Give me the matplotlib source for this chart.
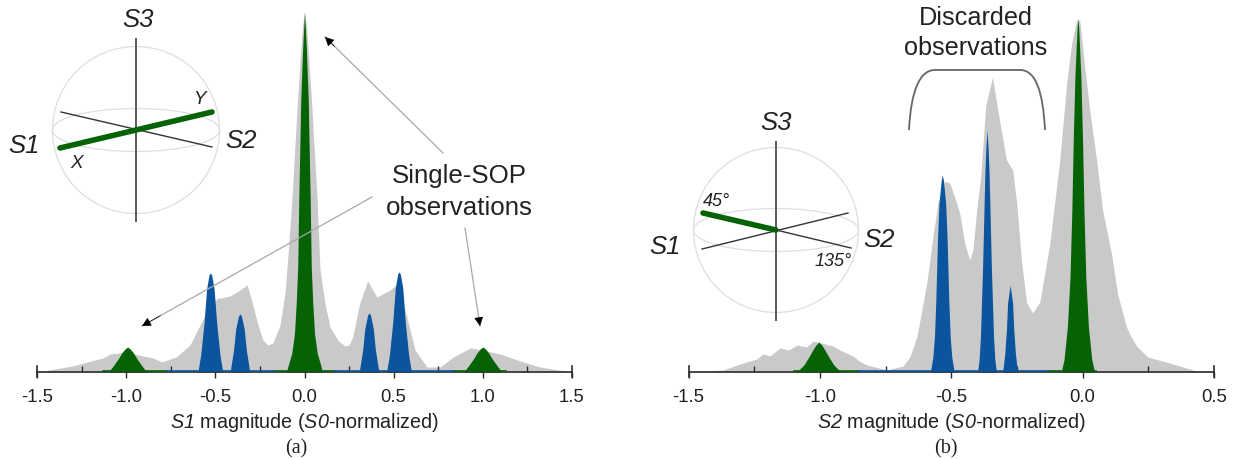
import numpy as np
import matplotlib
matplotlib.use('Agg')
import matplotlib.pyplot as plt
from matplotlib.patches import Circle, Ellipse, PathPatch
from matplotlib.path import Path

plt.rcParams['font.family'] = ['Liberation Sans', 'DejaVu Sans']
plt.rcParams['mathtext.fontset'] = 'custom'
# \mathrm is pointed at the italic face so the digits in S1, S2, S0 lean as well
plt.rcParams['mathtext.rm'] = 'Liberation Sans:italic'
plt.rcParams['mathtext.it'] = 'Liberation Sans:italic'

# ── Data, panel (a): S1 magnitude ─────────────────────────────────────────────
s1_gray_x = [-1.5, -1.4, -1.3, -1.2, -1.13, -1.09, -1.0, -0.905, -0.85, -0.8, -0.72, -0.642, -0.569,
             -0.53, -0.485, -0.47, -0.418, -0.362, -0.322, -0.294, -0.261, -0.233, -0.205, -0.177,
             -0.137, -0.109, -0.0925, -0.071, -0.039, -0.012, 0.0, 0.012, 0.039, 0.071, 0.087,
             0.115, 0.143, 0.19, 0.227, 0.25, 0.27, 0.31, 0.354, 0.405, 0.48, 0.53, 0.564, 0.62,
             0.687, 0.76, 0.834, 0.93, 1.0, 1.097, 1.21, 1.32, 1.5]
s1_gray_y = [0, 3, 6, 11, 14, 18, 20, 16, 14, 10, 15, 27, 53, 66, 74, 74, 76, 82, 87, 70, 47, 32,
             27, 29, 47, 80, 117, 172, 272, 345, 360, 345, 272, 172, 102, 68, 45, 31, 26, 27, 35,
             69, 91, 75, 82, 90, 62, 22, 5, 5, 15, 24, 22, 18, 11, 5, 0]

s1_green_peaks = [
    ([-1.1, -1.073, -1.045, -1.025, -1.007, -0.992, -0.977, -0.959, -0.939, -0.911, -0.885],
     [0, 6, 13, 19, 23, 25, 23, 19, 13, 6, 0]),
    ([-0.101, -0.094, -0.071, -0.056, -0.046, -0.038, -0.032, -0.021, -0.01, 0.0,
      0.01, 0.021, 0.032, 0.038, 0.046, 0.056, 0.071, 0.094, 0.101],
     [0, 5, 19, 39, 70, 105, 172, 272, 325, 360, 325, 272, 172, 105, 70, 39, 19, 5, 0]),
    ([0.893, 0.919, 0.947, 0.967, 0.985, 1.0, 1.015, 1.033, 1.053, 1.081, 1.107],
     [0, 6, 13, 19, 23, 25, 23, 19, 13, 6, 0]),
]
s1_blue_peaks = [
    ([-0.598, -0.595, -0.582, -0.563, -0.549, -0.5355, -0.528, -0.5205, -0.507, -0.493, -0.474, -0.461, -0.458],
     [0, 3, 17, 50, 83, 97, 99, 97, 83, 50, 17, 3, 0]),
    ([-0.417, -0.411, -0.397, -0.386, -0.37, -0.362, -0.354, -0.338, -0.327, -0.313, -0.307],
     [0, 7, 23, 43, 56, 58, 56, 43, 23, 7, 0]),
    ([0.307, 0.313, 0.327, 0.338, 0.354, 0.362, 0.37, 0.386, 0.397, 0.411, 0.417],
     [0, 7, 23, 43, 57, 59, 57, 43, 23, 7, 0]),
    ([0.46, 0.463, 0.476, 0.495, 0.509, 0.5225, 0.53, 0.5375, 0.551, 0.565, 0.584, 0.597, 0.6],
     [0, 3, 17, 50, 84, 98, 100, 98, 84, 50, 17, 3, 0]),
]
s1_green_base = [(-1.13, -0.77), (-0.17, 0.17), (0.83, 1.13)]
s1_blue_base = [(-0.77, -0.17), (0.17, 0.83)]

# ── Data, panel (b): S2 magnitude ─────────────────────────────────────────────
s2_gray_x = [-1.5, -1.369, -1.325, -1.292, -1.266, -1.24, -1.217, -1.19, -1.152, -1.12, -1.087,
             -1.05, -1.026, -0.98, -0.95, -0.924, -0.9, -0.874, -0.85, -0.82, -0.745, -0.684,
             -0.658, -0.631, -0.593, -0.57, -0.551, -0.525, -0.506, -0.487, -0.468, -0.449,
             -0.43, -0.418, -0.399, -0.388, -0.369, -0.343, -0.323, -0.29, -0.266, -0.251,
             -0.232, -0.213, -0.19, -0.163, -0.125, -0.087, -0.061, -0.042, -0.023, -0.011,
             0.008, 0.027, 0.053, 0.076, 0.11, 0.133, 0.167, 0.179, 0.205, 0.247, 0.304, 0.369,
             0.433, 0.5]
s2_gray_y = [0, 2, 6, 9, 11, 13, 18, 16, 24, 22, 27, 25, 31, 28, 26, 22, 19, 16, 11, 7, 2, 6, 15,
             35, 89, 135, 169, 191, 189, 175, 159, 129, 112, 122, 172, 195, 266, 295, 262, 212,
             202, 169, 109, 69, 59, 70, 128, 212, 288, 328, 352, 352, 305, 262, 212, 162, 118,
             78, 45, 38, 26, 15, 11, 6, 1, 0]

s2_green_peaks = [
    ([-1.091, -1.084, -1.061, -1.042, -1.027, -1.015, -1.004, -0.993, -0.981, -0.966, -0.947, -0.924, -0.917],
     [0, 1, 7, 15, 22, 27, 30, 27, 22, 15, 7, 1, 0]),
    ([-0.0815, -0.071, -0.058, -0.048, -0.041, -0.036, -0.0294, -0.021, -0.018, -0.015, -0.0066,
      0.0, 0.005, 0.012, 0.022, 0.035, 0.0455],
     [0, 12, 45, 95, 162, 228, 295, 345, 353, 345, 295, 228, 162, 95, 45, 12, 0]),
]
s2_blue_peaks = [
    ([-0.58, -0.578, -0.57, -0.564, -0.559, -0.5555, -0.552, -0.5467, -0.538, -0.534, -0.53,
      -0.5213, -0.516, -0.5125, -0.509, -0.504, -0.498, -0.49, -0.488],
     [0, 2, 15, 35, 69, 102, 135, 169, 192, 197, 192, 169, 135, 102, 69, 35, 15, 2, 0]),
    ([-0.4, -0.394, -0.389, -0.381, -0.3748, -0.3716, -0.368, -0.364, -0.36, -0.3564, -0.3532,
      -0.347, -0.339, -0.334, -0.328],
     [0, 12, 35, 102, 169, 202, 225, 242, 225, 202, 169, 102, 35, 12, 0]),
    ([-0.305, -0.302, -0.296, -0.29, -0.2855, -0.276, -0.2665, -0.262, -0.256, -0.25, -0.247],
     [0, 5, 19, 42, 69, 87, 69, 42, 19, 5, 0]),
]
s2_green_base = [(-1.1, -0.85), (-0.13, 0.05)]
s2_blue_base = [(-0.85, -0.13)]

s1_ticks = [-1.5, -1.0, -0.5, 0.0, 0.5, 1.0, 1.5]
s1_minor = [-1.25, -0.75, -0.25, 0.25, 0.75, 1.25]
s2_ticks = [-1.5, -1.0, -0.5, 0.0, 0.5]
s2_minor = [-1.25, -0.75, -0.25, 0.25]

GRAY = '#c9c9c9'
GREEN = '#056305'
BLUE = '#0b559e'
AXIS = '#2b2b2b'

W, H = 1236, 459
BASE = 372
fig = plt.figure(figsize=(W / 100, H / 100), dpi=100)


def draw_panel(left, right, xlim, gray_x, gray_y, greens, blues, green_base, blue_base,
               ticks, minor, xlabel):
    ax = fig.add_axes([left / W, (H - BASE) / H, (right - left) / W, BASE / H])
    ax.patch.set_alpha(0)
    ax.fill_between(gray_x, gray_y, 0, color=GRAY, lw=0, zorder=1)
    for px, py in greens:
        ax.fill_between(px, py, 0, color=GREEN, lw=0, zorder=2)
    for px, py in blues:
        ax.fill_between(px, py, 0, color=BLUE, lw=0, zorder=2)
    ax.set_xlim(xlim)
    ax.set_ylim(0, BASE)
    for sp in ['left', 'right', 'top']:
        ax.spines[sp].set_visible(False)
    ax.spines['bottom'].set_color(AXIS)
    ax.spines['bottom'].set_linewidth(1.2)
    ax.set_yticks([])
    ax.set_xticks(ticks)
    ax.set_xticklabels([f'{t:.1f}' for t in ticks])
    ax.set_xticks(minor, minor=True)
    ax.tick_params(axis='x', which='major', direction='out', length=4, width=1, color=AXIS,
                   labelsize=13.3, labelcolor='#222222', pad=8.5)
    ax.tick_params(axis='x', which='minor', direction='in', length=4, width=1, color=AXIS)
    for a, b in green_base:
        ax.plot([a, b], [0.6, 0.6], color=GREEN, lw=1.2, zorder=3, clip_on=False)
    for a, b in blue_base:
        ax.plot([a, b], [0.6, 0.6], color=BLUE, lw=1.2, zorder=3, clip_on=False)
    for x in xlim:
        ax.plot([x, x], [-5, 6], color=AXIS, lw=1.2, clip_on=False, zorder=4)
    ax.set_xlabel(xlabel, fontsize=14.2, color='#222222', labelpad=3)
    return ax


draw_panel(37, 572, (-1.5, 1.5), s1_gray_x, s1_gray_y, s1_green_peaks, s1_blue_peaks,
           s1_green_base, s1_blue_base, s1_ticks, s1_minor,
           r'$\mathrm{S1}$ magnitude ($\mathrm{S0}$-normalized)')
draw_panel(688.5, 1214, (-1.5, 0.5), s2_gray_x, s2_gray_y, s2_green_peaks, s2_blue_peaks,
           s2_green_base, s2_blue_base, s2_ticks, s2_minor,
           r'$\mathrm{S2}$ magnitude ($\mathrm{S0}$-normalized)')

# ── Overlay in pixel coordinates: spheres, arrows, notes ──────────────────────
ov = fig.add_axes([0, 0, 1, 1])
ov.set_xlim(0, W)
ov.set_ylim(H, 0)
ov.axis('off')
ov.patch.set_alpha(0)


def sphere(cx, cy, r, top, bottom):
    ov.add_patch(Circle((cx, cy), r, fill=False, ec='#dedede', lw=0.9))
    ov.add_patch(Ellipse((cx, cy), 2 * r, 43, fill=False, ec='#dedede', lw=0.9))
    ov.plot([cx, cx], [top, bottom], color='#5a5a5a', lw=1.4, solid_capstyle='butt')


sphere(136, 130, 83.5, 38, 222)
ov.plot([61, 212], [112, 147], color='#333333', lw=1.0)
ov.plot([60, 212], [148, 112], color=GREEN, lw=4, solid_capstyle='round')

sphere(776, 230, 82.5, 141, 321)
ov.plot([702, 848], [249, 213], color='#333333', lw=1.0)
ov.plot([776, 851], [230, 248], color='#333333', lw=1.0)
ov.plot([703, 776], [213, 230], color=GREEN, lw=4, solid_capstyle='round')

for x, y, s, fs in [(138, 20, 'S3', 18.5), (24, 146, 'S1', 18.5), (241, 141, 'S2', 18.5),
                    (199, 100, 'Y', 13.5), (77, 163, 'X', 13.5),
                    (776, 123, 'S3', 18.5), (665, 247, 'S1', 18.5), (879, 240, 'S2', 18.5),
                    (717, 202, '45°', 13), (833, 262, '135°', 13)]:
    ov.text(x, y, s, fontsize=fs, style='italic', ha='center', va='center', color='#222222')

for start, tip in [((443, 153), (325, 37)), ((372, 197), (142, 326)), ((465, 228), (480, 326))]:
    ov.plot([start[0], tip[0]], [start[1], tip[1]], color='#a8a8a8', lw=0.9)
    ov.annotate('', xy=tip, xytext=(tip[0] + (start[0] - tip[0]) * 0.08, tip[1] + (start[1] - tip[1]) * 0.08),
                arrowprops=dict(arrowstyle='-|>,head_length=0.55,head_width=0.28', fc='black', ec='black',
                                lw=0.5, shrinkA=0, shrinkB=0))

ov.text(459, 192, 'Single-SOP\nobservations', fontsize=18.6, ha='center', va='center',
        color='#222222', linespacing=1.45)
ov.text(976, 33, 'Discarded\nobservations', fontsize=18.2, ha='center', va='center',
        color='#222222', linespacing=1.3)

bracket = Path([(909, 130), (911, 90), (920, 70), (935, 70), (1020, 70),
                (1036, 70), (1043, 92), (1045, 130)],
               [Path.MOVETO, Path.CURVE4, Path.CURVE4, Path.CURVE4, Path.LINETO,
                Path.CURVE4, Path.CURVE4, Path.CURVE4])
ov.add_patch(PathPatch(bracket, fill=False, ec='#666666', lw=1.3))

ov.text(296, 449, '(a)', fontsize=14.5, family='Liberation Serif', ha='center', va='center', color='#222222')
ov.text(946, 449, '(b)', fontsize=14.5, family='Liberation Serif', ha='center', va='center', color='#222222')

plt.savefig('out.png', dpi=100)
plt.close()
